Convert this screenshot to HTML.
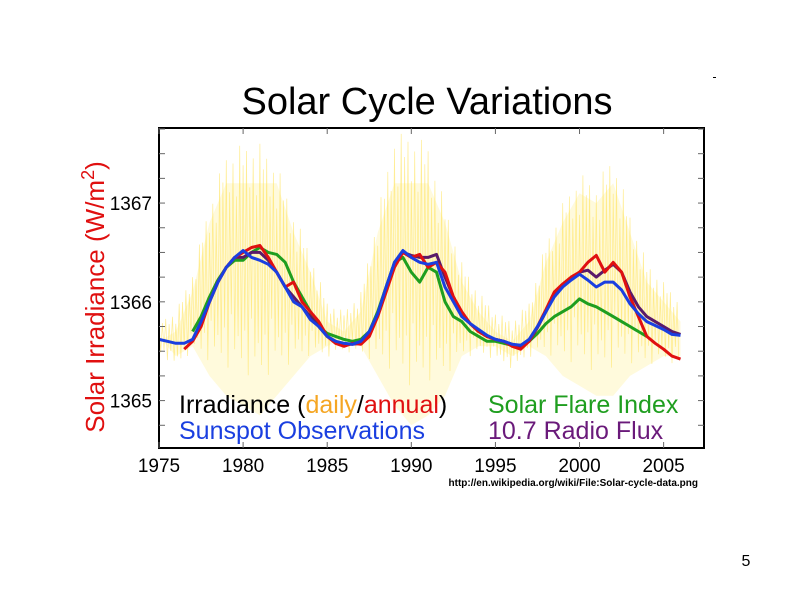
<!DOCTYPE html>
<html><head><meta charset="utf-8"><style>
html,body{margin:0;padding:0;background:#fff;}
svg{display:block;font-family:"Liberation Sans",Arial,sans-serif;}
</style></head><body>
<svg id="chart" width="800" height="600" viewBox="0 0 800 600">
<text x="427" y="114" font-size="38" text-anchor="middle">Solar Cycle Variations</text>
<rect x="713" y="77" width="3" height="1" fill="#000"/>
<g id="plot"></g>
<text transform="translate(104,297) rotate(-90)" font-size="26" fill="#e01010" text-anchor="middle">Solar Irradiance (W/m<tspan dy="-10" font-size="18">2</tspan><tspan dy="10">)</tspan></text>
<g font-size="25">
<text x="179" y="413">Irradiance (<tspan fill="#f5a623">daily</tspan>/<tspan fill="#e01010">annual</tspan>)</text>
<text x="179" y="439" fill="#1a3fe0">Sunspot Observations</text>
<text x="488" y="413" fill="#1f9e1f">Solar Flare Index</text>
<text x="488" y="439" fill="#6a1a7a">10.7 Radio Flux</text>
</g>
<text x="698" y="486" font-size="10" font-weight="bold" text-anchor="end">http://en.wikipedia.org/wiki/File:Solar-cycle-data.png</text>
<text x="746" y="566" font-size="16" text-anchor="middle">5</text>
</svg>
<script>
const yearTicks=[1975,1980,1985,1990,1995,2000,2005];
const valueTicks=[1365,1366,1367];
const dailyYears=[1975,1976,1977,1978,1979,1980,1981,1982,1983,1984,1985,1986,1987,1988,1989,1990,1991,1992,1993,1994,1995,1996,1997,1998,1999,2000,2001,2002,2003,2004,2005,2006];
const dailyHigh=[1365.8,1365.9,1366.3,1367.0,1367.5,1367.6,1367.6,1367.4,1366.9,1366.5,1366.0,1365.9,1366.1,1366.9,1367.7,1367.7,1367.6,1367.0,1366.4,1366.1,1365.9,1365.8,1366.0,1366.6,1367.0,1367.3,1367.2,1367.5,1366.9,1366.4,1366.2,1366.0];
const dailyLow=[1365.4,1365.2,1365.3,1365.0,1364.8,1364.7,1364.6,1364.8,1365.0,1365.2,1365.3,1365.4,1365.3,1365.0,1364.7,1364.5,1364.6,1364.8,1365.2,1365.3,1365.3,1365.2,1365.3,1365.2,1365.0,1364.9,1364.8,1364.8,1365.0,1365.1,1365.2,1365.2];
const redYears=[1976.5,1977,1977.5,1978,1978.5,1979,1979.5,1980,1980.5,1981,1981.5,1982,1982.5,1983,1983.5,1984,1984.5,1985,1985.5,1986,1986.5,1987,1987.5,1988,1988.5,1989,1989.5,1990,1990.5,1991,1991.5,1992,1992.5,1993,1993.5,1994,1994.5,1995,1995.5,1996,1996.5,1997,1997.5,1998,1998.5,1999,1999.5,2000,2000.5,2001,2001.5,2002,2002.5,2003,2003.5,2004,2004.5,2005,2005.5,2006];
const redValues=[1365.52,1365.6,1365.75,1366.0,1366.2,1366.35,1366.45,1366.5,1366.55,1366.57,1366.45,1366.3,1366.15,1366.2,1366.0,1365.9,1365.8,1365.65,1365.58,1365.55,1365.58,1365.57,1365.65,1365.85,1366.1,1366.35,1366.5,1366.45,1366.48,1366.35,1366.4,1366.3,1366.05,1365.9,1365.78,1365.7,1365.65,1365.62,1365.6,1365.55,1365.52,1365.6,1365.75,1365.92,1366.1,1366.18,1366.25,1366.3,1366.4,1366.47,1366.3,1366.4,1366.3,1366.05,1365.85,1365.65,1365.58,1365.52,1365.45,1365.42];
const blueYears=[1975,1975.5,1976,1976.5,1977,1977.5,1978,1978.5,1979,1979.5,1980,1980.5,1981,1981.5,1982,1982.5,1983,1983.5,1984,1984.5,1985,1985.5,1986,1986.5,1987,1987.5,1988,1988.5,1989,1989.5,1990,1990.5,1991,1991.5,1992,1992.5,1993,1993.5,1994,1994.5,1995,1995.5,1996,1996.5,1997,1997.5,1998,1998.5,1999,1999.5,2000,2000.5,2001,2001.5,2002,2002.5,2003,2003.5,2004,2004.5,2005,2005.5,2006];
const blueValues=[1365.62,1365.6,1365.58,1365.58,1365.62,1365.8,1366.0,1366.2,1366.35,1366.45,1366.52,1366.45,1366.42,1366.38,1366.3,1366.15,1366.0,1365.95,1365.82,1365.75,1365.65,1365.6,1365.58,1365.57,1365.6,1365.7,1365.88,1366.15,1366.4,1366.52,1366.45,1366.4,1366.38,1366.4,1366.15,1366.0,1365.85,1365.78,1365.72,1365.66,1365.62,1365.6,1365.57,1365.56,1365.62,1365.75,1365.9,1366.05,1366.15,1366.22,1366.28,1366.22,1366.15,1366.2,1366.2,1366.12,1365.98,1365.88,1365.8,1365.76,1365.72,1365.67,1365.66];
const greenYears=[1977,1977.5,1978,1978.5,1979,1979.5,1980,1980.5,1981,1981.5,1982,1982.5,1983,1983.5,1984,1984.5,1985,1985.5,1986,1986.5,1987,1987.5,1988,1988.5,1989,1989.5,1990,1990.5,1991,1991.5,1992,1992.5,1993,1993.5,1994,1994.5,1995,1995.5,1996,1996.5,1997,1997.5,1998,1998.5,1999,1999.5,2000,2000.5,2001,2001.5,2002,2002.5,2003,2003.5,2004];
const greenValues=[1365.7,1365.85,1366.05,1366.22,1366.35,1366.42,1366.42,1366.5,1366.55,1366.5,1366.48,1366.4,1366.2,1366.05,1365.9,1365.75,1365.68,1365.65,1365.62,1365.6,1365.62,1365.7,1365.9,1366.15,1366.4,1366.45,1366.3,1366.2,1366.35,1366.3,1366.0,1365.85,1365.8,1365.7,1365.65,1365.6,1365.6,1365.58,1365.56,1365.56,1365.6,1365.68,1365.78,1365.85,1365.9,1365.95,1366.03,1365.98,1365.95,1365.9,1365.85,1365.8,1365.75,1365.7,1365.65];
const purpleYears=[1978,1978.5,1979,1979.5,1980,1980.5,1981,1981.5,1982,1982.5,1983,1983.5,1984,1984.5,1985,1985.5,1986,1986.5,1987,1987.5,1988,1988.5,1989,1989.5,1990,1990.5,1991,1991.5,1992,1992.5,1993,1993.5,1994,1994.5,1995,1995.5,1996,1996.5,1997,1997.5,1998,1998.5,1999,1999.5,2000,2000.5,2001,2001.5,2002,2002.5,2003,2003.5,2004,2004.5,2005,2005.5,2006];
const purpleValues=[1366.0,1366.2,1366.35,1366.45,1366.45,1366.5,1366.5,1366.42,1366.3,1366.15,1366.05,1365.95,1365.85,1365.75,1365.65,1365.6,1365.57,1365.57,1365.58,1365.67,1365.87,1366.12,1366.38,1366.5,1366.47,1366.45,1366.45,1366.48,1366.25,1366.05,1365.88,1365.78,1365.7,1365.65,1365.62,1365.6,1365.57,1365.55,1365.6,1365.74,1365.9,1366.08,1366.17,1366.24,1366.3,1366.32,1366.25,1366.32,1366.38,1366.3,1366.1,1365.95,1365.85,1365.8,1365.75,1365.7,1365.67];

const NS='http://www.w3.org/2000/svg';
const L=159,R=704,T=128,B=448;
const X0=1975,X1=2007.4,Y0=1364.52,Y1=1367.76;
function xs(v){return L+(v-X0)/(X1-X0)*(R-L);}
function ys(v){return B-(v-Y0)/(Y1-Y0)*(B-T);}
const plot=document.getElementById('plot');
function mk(tag,attrs,parent){const e=document.createElementNS(NS,tag);for(const k in attrs)e.setAttribute(k,attrs[k]);(parent||plot).appendChild(e);return e;}

let band='';
dailyYears.forEach((y,i)=>{band+=(i?'L':'M')+xs(y).toFixed(1)+','+ys(Math.min(dailyHigh[i],1367.4)-0.2).toFixed(1);});
for(let i=dailyYears.length-1;i>=0;i--)band+='L'+xs(dailyYears[i]).toFixed(1)+','+ys(dailyLow[i]+0.25).toFixed(1);
const bandEl=mk('path',{d:band+'Z',fill:'#fffadc'});


const pat=[1,0.5,0.85,0.3,0.95,0.6,0.7,0.2,0.9,0.45,0.65,0.35];
let z='';let k=0;
for(let i=0;i<dailyYears.length-1;i++){
  for(let s=0;s<10;s++){
    const f=s/10,yr=dailyYears[i]+f;
    const hi=dailyHigh[i]+(dailyHigh[i+1]-dailyHigh[i])*f;
    const lo=dailyLow[i]+(dailyLow[i+1]-dailyLow[i])*f;
    const mid=(hi+lo)/2,p=pat[k%pat.length];
    const v=(k%2===0)?mid+(hi-mid)*p:mid-(mid-lo)*p;
    z+=(z?'L':'M')+xs(yr).toFixed(1)+','+ys(v).toFixed(1);k++;
  }
}
const spikes=mk('path',{d:z,fill:'none',stroke:'#ffe45c','stroke-width':0.7,opacity:0.65});



function line(ys_,vs,color,name){
  let d='';ys_.forEach((y,i)=>{d+=(i?'L':'M')+xs(y).toFixed(1)+','+ys(vs[i]).toFixed(1);});
  const p=mk('path',{d:d,fill:'none',stroke:color,'stroke-width':3,'stroke-linejoin':'round'});
  
  
}
line(greenYears,greenValues,'#1f9e1f','solar-flare-line');
line(purpleYears,purpleValues,'#5a1a6a','radio-flux-line');
line(redYears,redValues,'#e01010','annual-irradiance-line');
line(blueYears,blueValues,'#1a3fe0','sunspot-line');

const fr=mk('rect',{x:L,y:T,width:R-L,height:B-T,fill:'none',stroke:'#000','stroke-width':2});


yearTicks.forEach(y=>{
  const x=xs(y);
  mk('line',{x1:x,x2:x,y1:B,y2:B-6,stroke:'#666'});
  mk('line',{x1:x,x2:x,y1:T,y2:T+6,stroke:'#666'});
  const t=mk('text',{x:x,y:472,'font-size':19,'text-anchor':'middle'});
  t.textContent=y;
  
  
});
for(let v=1364.75;v<1367.76;v+=0.25){
  const y=ys(v);
  mk('line',{x1:L,x2:L+6,y1:y,y2:y,stroke:'#666'});
  mk('line',{x1:R,x2:R-6,y1:y,y2:y,stroke:'#666'});
}
valueTicks.forEach(v=>{
  const t=mk('text',{x:152,y:ys(v)+7,'font-size':19,'text-anchor':'end'});
  t.textContent=v;
  
  
});
</script>
</body></html>
